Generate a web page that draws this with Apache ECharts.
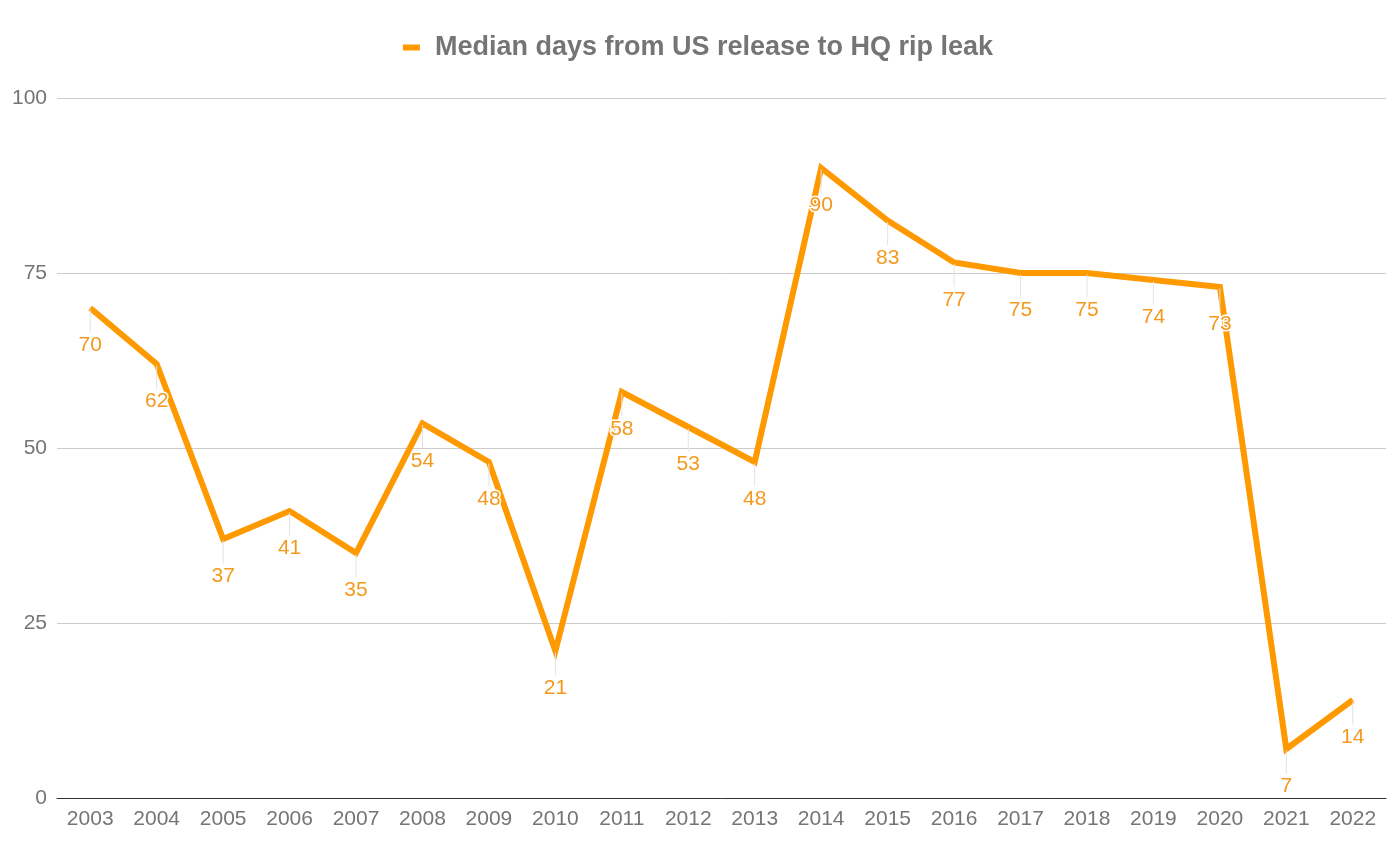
<!DOCTYPE html>
<html>
<head>
<meta charset="utf-8">
<script src="https://cdn.jsdelivr.net/npm/echarts@6/dist/echarts.min.js"></script>
<style>
html,body{margin:0;padding:0;background:#fff;}
#chart{width:1396px;height:849px;}
</style>
</head>
<body>
<div id="chart"></div>
<script>
var seriesName = 'Median days from US release to HQ rip leak';
var years = ['2003','2004','2005','2006','2007','2008','2009','2010','2011','2012','2013','2014','2015','2016','2017','2018','2019','2020','2021','2022'];
var medianDays = [70, 62, 37, 41, 35, 53.5, 48, 21, 58, 53, 48, 90, 82.5, 76.5, 75, 75, 74, 73, 7, 14];
var yTicks = {min: 0, max: 100, interval: 25};

var ORANGE = '#FF9900';
var GRAY = '#757575';
var FONT = '"Liberation Sans", Arial, sans-serif';

var chart = echarts.init(document.getElementById('chart'));
chart.setOption({
  animation: false,
  backgroundColor: '#fff',
  textStyle: {fontFamily: FONT},
  legend: {
    top: 29,
    left: 'center',
    icon: 'rect',
    itemWidth: 17,
    itemHeight: 6,
    textStyle: {fontSize: 27, fontWeight: 'bold', color: GRAY, fontFamily: FONT, padding: [0, 0, 0, 10]},
    data: [seriesName]
  },
  grid: {left: 57, right: 10, top: 98, bottom: 51, containLabel: false},
  xAxis: {
    type: 'category',
    data: years,
    boundaryGap: true,
    axisLine: {show: true, lineStyle: {color: '#333', width: 1}},
    axisTick: {show: false},
    axisLabel: {color: GRAY, fontSize: 21, margin: 11, fontFamily: FONT, interval: 0}
  },
  yAxis: {
    type: 'value',
    min: yTicks.min,
    max: yTicks.max,
    interval: yTicks.interval,
    axisLine: {show: false},
    axisTick: {show: false},
    splitLine: {lineStyle: {color: '#cccccc', width: 1}},
    axisLabel: {color: GRAY, fontSize: 21, margin: 10, fontFamily: FONT}
  },
  series: [{
    name: seriesName,
    type: 'line',
    data: medianDays,
    symbol: 'circle',
    symbolSize: 1,
    showSymbol: true,
    lineStyle: {color: ORANGE, width: 6, join: 'miter'},
    itemStyle: {color: ORANGE},
    z: 2,
    label: {
      show: true,
      position: 'bottom',
      distance: 1,
      formatter: function (p) { return '{l| }\n{v|' + Math.round(p.value) + '}'; },
      rich: {
        l: {width: 1, height: 23, backgroundColor: '#e3e3e3', fontSize: 1, lineHeight: 23},
        v: {fontSize: 21, lineHeight: 26, color: '#F39A1E', fontFamily: FONT, textBorderColor: '#fff', textBorderWidth: 3}
      }
    }
  }]
});
</script>
</body>
</html>
